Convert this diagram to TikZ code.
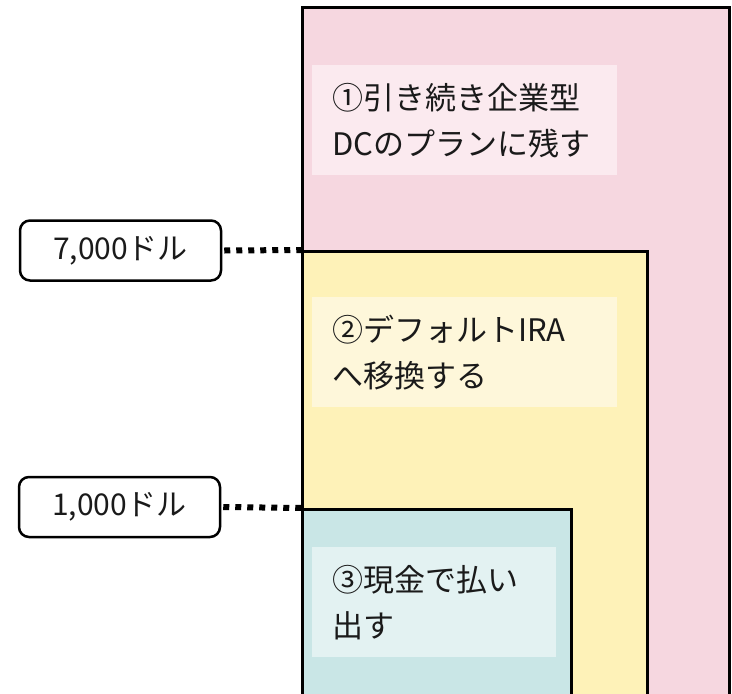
\documentclass[tikz,border=0pt]{standalone}
\usepackage{fontspec}
\setmainfont{Noto Sans CJK JP}
\definecolor{pinkfill}{HTML}{F6D7E0}
\definecolor{pinklabel}{HTML}{FBEAEF}
\definecolor{yellowfill}{HTML}{FEF2B8}
\definecolor{yellowlabel}{HTML}{FEF7DA}
\definecolor{tealfill}{HTML}{C9E6E6}
\definecolor{teallabel}{HTML}{E3F2F2}
\definecolor{ink}{HTML}{1A1A1A}
\begin{document}
\begin{tikzpicture}[x=1pt,y=-1pt,
  region/.style={draw=black, line width=2.5pt, anchor=north west, inner sep=0pt},
  labelbg/.style={anchor=north west, minimum height=110pt, inner xsep=20pt, inner ysep=0pt, align=left, text=ink, font=\fontsize{31}{46}\selectfont},
  amount/.style={draw=black, line width=2.5pt, rounded corners=10pt, minimum width=201pt, minimum height=60pt, inner sep=0pt, text=ink, font=\fontsize{30}{34}\selectfont},
  level/.style={line width=6pt, dash pattern=on 6pt off 6pt}
]
\useasboundingbox (0,0) rectangle (732,694);
\begin{scope}
\clip (0,0) rectangle (732,694);
\node[region, fill=pinkfill, minimum width=427pt, minimum height=720pt] (pink) at (301,6) {};
\node[region, fill=yellowfill, minimum width=345pt, minimum height=720pt] (yellow) at (301,250) {};
\node[region, fill=tealfill, minimum width=269pt, minimum height=720pt] (teal) at (301,508) {};
\end{scope}
\node[labelbg, fill=pinklabel, text width=265pt] (l1) at (312,65) {①引き続き企業型\\DCのプランに残す};
\node[labelbg, fill=yellowlabel, text width=265pt] (l2) at (312,297) {②デフォルトIRA\\へ移換する};
\node[labelbg, fill=teallabel, text width=204pt] (l3) at (312,547) {③現金で払い\\出す};
\node[amount] (k7) at (120.5,250.5) {7,000ドル};
\node[amount] (k1) at (119.5,507) {1,000ドル};
\draw[level] ([xshift=2pt]k7.east) -- ([xshift=1pt]yellow.north west);
\draw[level] ([xshift=2pt]k1.east) -- ([xshift=1pt]teal.north west);
\end{tikzpicture}
\end{document}
